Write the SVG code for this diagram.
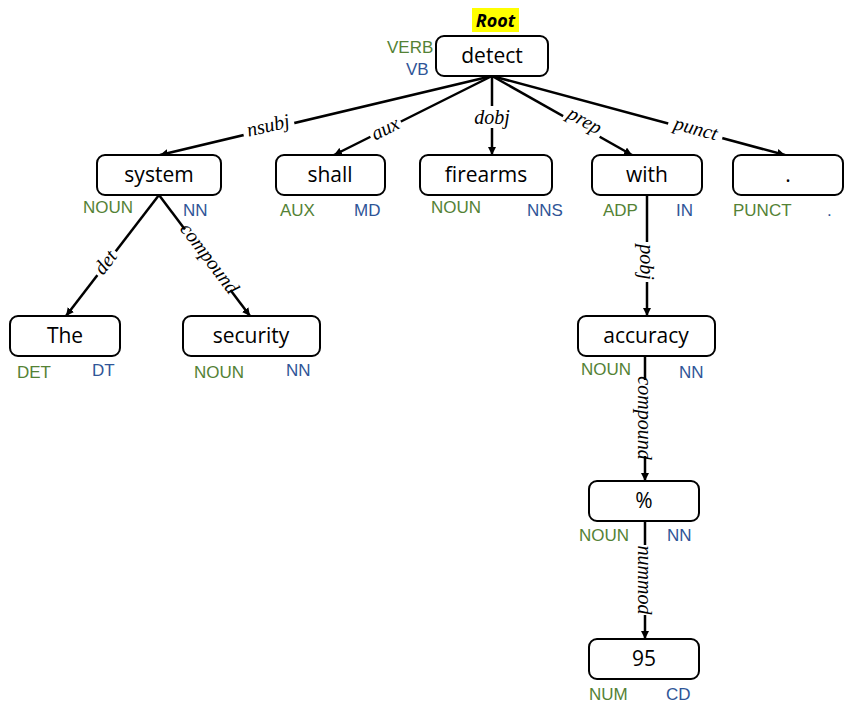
<svg xmlns="http://www.w3.org/2000/svg" width="856" height="708" viewBox="0 0 856 708">
<defs>
<marker id="ah" viewBox="0 0 10 10" refX="10" refY="5" markerWidth="8" markerHeight="8" markerUnits="userSpaceOnUse" orient="auto"><path d="M0,0 L10,5 L0,10 z" fill="#000"/></marker>
<style>
.n rect{fill:#fff;stroke:#000;stroke-width:2}
.n text{font-family:"Open Sans","Liberation Sans",sans-serif;font-size:21px;text-anchor:middle;fill:#000}
.n text.g{font-family:"Liberation Sans",sans-serif;font-size:17px;fill:#548235;text-anchor:start}
.n text.b{font-family:"Liberation Sans",sans-serif;font-size:17px;fill:#2F5597;text-anchor:start}
#edges line{stroke:#000;stroke-width:2.5;marker-end:url(#ah)}
.l{font-family:"Liberation Serif",serif;font-style:italic;font-size:20px;text-anchor:middle;dominant-baseline:central}
.lb{fill:#fff}
</style>
</defs>
<rect width="856" height="708" fill="#fff"/>
<g id="edges">
<line x1="492" y1="76" x2="160" y2="155"/>
<line x1="492" y1="76" x2="334" y2="155"/>
<line x1="492" y1="76" x2="492" y2="155"/>
<line x1="492" y1="76" x2="632" y2="155"/>
<line x1="492" y1="76" x2="785" y2="155"/>
<line x1="159" y1="195" x2="66" y2="316"/>
<line x1="159" y1="195" x2="250" y2="316"/>
<line x1="647" y1="195" x2="647" y2="316"/>
<line x1="645" y1="356" x2="645" y2="481"/>
<line x1="645" y1="521" x2="645" y2="639"/>
<g transform="translate(268,125) rotate(-13.3)"><rect class="lb" x="-26" y="-10" width="52" height="20"/><text class="l">nsubj</text></g>
<g transform="translate(385,128) rotate(-26.7)"><rect class="lb" x="-17" y="-9" width="34" height="18"/><text class="l">aux</text></g>
<g transform="translate(492,117)"><rect class="lb" x="-21" y="-11" width="42" height="22"/><text class="l">dobj</text></g>
<g transform="translate(585,120) rotate(29.4)"><rect class="lb" x="-21" y="-10" width="42" height="20"/><text class="l">prep</text></g>
<g transform="translate(696,128) rotate(15)"><rect class="lb" x="-28" y="-10" width="56" height="20"/><text class="l">punct</text></g>
<g transform="translate(105,262) rotate(-52)"><rect class="lb" x="-15" y="-10" width="30" height="20"/><text class="l">det</text></g>
<g transform="translate(210,258) rotate(53)"><rect class="lb" x="-38" y="-10" width="76" height="20"/><text class="l">compound</text></g>
<g transform="translate(647,262) rotate(90)"><rect class="lb" x="-20" y="-10" width="40" height="20"/><text class="l">pobj</text></g>
<g transform="translate(645,418) rotate(90)"><rect class="lb" x="-38" y="-10" width="76" height="20"/><text class="l">compound</text></g>
<g transform="translate(645,580) rotate(90)"><rect class="lb" x="-35" y="-10" width="70" height="20"/><text class="l">nummod</text></g>
</g>
<g id="root"><rect x="472" y="8" width="47" height="24" fill="#ffff00"/><text x="495.5" y="27" font-family="'Open Sans','Liberation Sans',sans-serif" font-size="18" font-weight="bold" font-style="italic" text-anchor="middle">Root</text></g>
<g id="n-detect" class="n"><rect x="436" y="36" width="112" height="40" rx="8"/><text x="492" y="63">detect</text><text class="g" x="387" y="53">VERB</text><text class="b" x="406" y="75">VB</text></g>
<g id="n-system" class="n"><rect x="97" y="155" width="124" height="40" rx="8"/><text x="159" y="182">system</text><text class="g" x="83" y="213">NOUN</text><text class="b" x="183" y="216">NN</text></g>
<g id="n-shall" class="n"><rect x="276" y="155" width="109" height="40" rx="8"/><text x="330" y="182">shall</text><text class="g" x="280" y="216">AUX</text><text class="b" x="354" y="216">MD</text></g>
<g id="n-firearms" class="n"><rect x="420" y="155" width="132" height="40" rx="8"/><text x="486" y="182">firearms</text><text class="g" x="431" y="213">NOUN</text><text class="b" x="527" y="216">NNS</text></g>
<g id="n-with" class="n"><rect x="592" y="155" width="110" height="40" rx="8"/><text x="647" y="182">with</text><text class="g" x="603" y="216">ADP</text><text class="b" x="676" y="216">IN</text></g>
<g id="n-punct" class="n"><rect x="733" y="155" width="110" height="40" rx="8"/><text x="788" y="182">.</text><text class="g" x="733" y="216">PUNCT</text><text class="b" x="827" y="216">.</text></g>
<g id="n-the" class="n"><rect x="10" y="316" width="110" height="40" rx="8"/><text x="65" y="343">The</text><text class="g" x="17" y="378">DET</text><text class="b" x="92" y="376">DT</text></g>
<g id="n-security" class="n"><rect x="183" y="316" width="137" height="40" rx="8"/><text x="251" y="343">security</text><text class="g" x="194" y="378">NOUN</text><text class="b" x="286" y="376">NN</text></g>
<g id="n-accuracy" class="n"><rect x="578" y="316" width="137" height="40" rx="8"/><text x="646" y="343">accuracy</text><text class="g" x="581" y="375">NOUN</text><text class="b" x="679" y="378">NN</text></g>
<g id="n-pct" class="n"><rect x="589" y="481" width="110" height="40" rx="8"/><text x="644" y="508">%</text><text class="g" x="579" y="541">NOUN</text><text class="b" x="667" y="541">NN</text></g>
<g id="n-95" class="n"><rect x="589" y="639" width="110" height="40" rx="8"/><text x="644" y="666">95</text><text class="g" x="589" y="700">NUM</text><text class="b" x="666" y="700">CD</text></g>
</svg>
